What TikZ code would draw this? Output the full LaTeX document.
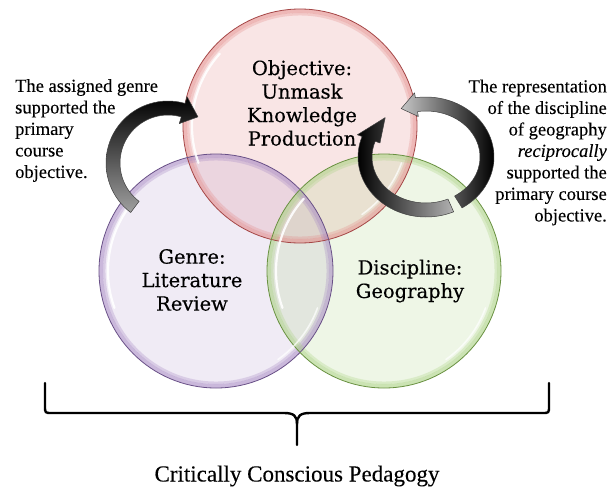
\documentclass[tikz,border=0pt]{standalone}
\usepackage{fontspec}
\setmainfont{Liberation Serif}[FakeBold=0.15]
\newfontfamily\circfont{DejaVu Serif}[FakeBold=0.35]
\usetikzlibrary{calc}
\definecolor{redbase}{RGB}{228,140,138}
\definecolor{redline}{RGB}{165,70,70}
\definecolor{purbase}{RGB}{165,135,195}
\definecolor{purline}{RGB}{105,80,135}
\definecolor{grnbase}{RGB}{170,210,130}
\definecolor{grnline}{RGB}{105,145,65}
% #1 options, #2 start angle, #3 head base angle, #4 tip angle, #5 rx, #6 ry, #7 half width, #8 barb
\newcommand\ringarrow[8]{%
 \shadedraw[#1] plot[domain=#2:#3,samples=40] ({(#5+#7)*cos(\x)},{(#6+#7)*sin(\x)})
 -- ({(#5+#7+#8)*cos(#3)},{(#6+#7+#8)*sin(#3)})
 -- ({#5*cos(#4)},{#6*sin(#4)})
 -- ({(#5-#7-#8)*cos(#3)},{(#6-#7-#8)*sin(#3)})
 -- plot[domain=#3:#2,samples=40] ({(#5-#7)*cos(\x)},{(#6-#7)*sin(\x)})
 -- cycle;}
\tikzset{
 circtext/.style={font=\circfont\fontsize{19.5}{23.5}\selectfont, align=center, inner sep=0},
 sidetext/.style={font=\fontsize{18.5}{21.5}\selectfont, inner sep=0},
 arrowline/.style={draw=black!75, line width=0.5pt, line join=round},
 bracestyle/.style={line width=2.4pt, line cap=round, line join=round}
}
\begin{document}
\begin{tikzpicture}[x=1pt,y=-1pt]
\useasboundingbox (0,0) rectangle (610,487);
\fill[white] (0,0) rectangle (610,487);
\coordinate (cObj) at (300,126);
\coordinate (cGen) at (216,271);
\coordinate (cDis) at (384,271);
% fills
\foreach \c/\b/\o in {cObj/redbase/0.22, cGen/purbase/0.16, cDis/grnbase/0.2}
 {\fill[\b, fill opacity=\o] (\c) circle[radius=117];}
% inner glow
\foreach \c/\b in {cObj/redbase, cGen/purbase, cDis/grnbase}
 {\draw[\b, line width=4pt, draw opacity=0.5] (\c) circle[radius=115];
  \draw[\b, line width=2.5pt, draw opacity=0.3] (\c) circle[radius=111.8];}
% borders
\foreach \c/\l in {cObj/redline, cGen/purline, cDis/grnline}
 {\draw[\l, line width=0.8pt] (\c) circle[radius=117];}
% highlights
\foreach \c in {cObj, cGen, cDis}
 {\draw[white, line width=2.2pt, line cap=round, opacity=0.9] ($(\c)+(160:108)$) arc[start angle=160, end angle=222, radius=108];
  \draw[white, line width=1.6pt, line cap=round, opacity=0.7] ($(\c)+(20:108)$) arc[start angle=20, end angle=55, radius=108];}
% texts in circles
\node[circtext] (objT) at (302,103) {Objective:\\Unmask\\Knowledge\\Production};
\node[circtext] (genT) at (192,280) {Genre:\\Literature\\Review};
\node[circtext] (disT) at (410,281) {Discipline:\\Geography};
% left arrow
\coordinate (cLeft) at (168,163);
\begin{scope}[shift={(cLeft)}]
\ringarrow{arrowline, top color=black, bottom color=gray!75}{127}{286}{303}{55}{55}{7}{7}
\end{scope}
% right cycle arrows
\coordinate (cRight) at (426,157);
\begin{scope}[shift={(cRight)}]
\ringarrow{arrowline, left color=gray!45, right color=black}{58}{-99}{-114}{61}{53}{7}{5}
\ringarrow{arrowline, left color=black, right color=gray!60}{66}{200}{228}{61}{53}{7}{5}
\end{scope}
% side texts
\node[sidetext, align=left, anchor=west] (leftT) at (15,130.5) {The assigned genre\\supported the\\primary\\course\\objective.};
\node[sidetext, align=right, anchor=east] (rightT) at (607,152.5) {The representation\\of the discipline\\of geography\\\textit{reciprocally}\\supported the\\primary course\\objective.};
% brace
\coordinate (bL) at (45,383);
\coordinate (bR) at (549,383);
\coordinate (bTip) at (297,445);
\draw[bracestyle] (bL) -- (45,406) .. controls (45,413) .. (52,413) -- (284,413)
 .. controls (294,413) and (297,416) .. (297,424) -- (bTip);
\draw[bracestyle] (bR) -- (549,406) .. controls (549,413) .. (542,413) -- (310,413)
 .. controls (300,413) and (297,416) .. (297,424);
\node[font=\fontsize{23}{27}\selectfont, inner sep=0] (capT) at (297,476) {Critically Conscious Pedagogy};
\end{tikzpicture}
\end{document}
